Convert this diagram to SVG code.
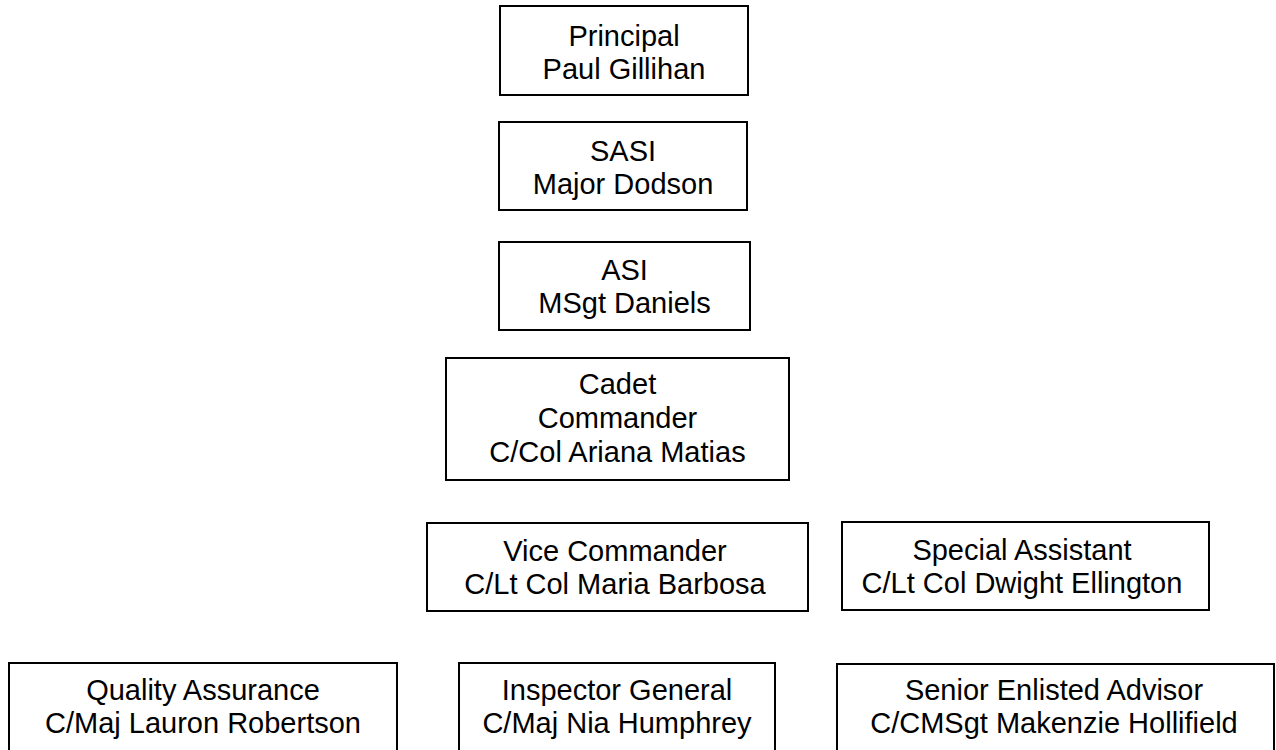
<svg xmlns="http://www.w3.org/2000/svg" width="1276" height="750" viewBox="0 0 1276 750">
<style>
.box{fill:#fff;stroke:#000;stroke-width:2}
.t{font-family:"Liberation Sans",Arial,sans-serif;font-size:29px;fill:#000;text-anchor:middle}
</style>
<rect width="1276" height="750" fill="#fff"/>
<g id="connectors"></g>
<g id="principal">
<rect class="box" x="500" y="6" width="248" height="89"/>
<text class="t" x="624" y="46">Principal</text>
<text class="t" x="624" y="79">Paul Gillihan</text>
</g>
<g id="sasi">
<rect class="box" x="499" y="122" width="248" height="88"/>
<text class="t" x="623" y="161">SASI</text>
<text class="t" x="623" y="194">Major Dodson</text>
</g>
<g id="asi">
<rect class="box" x="499" y="242" width="251" height="88"/>
<text class="t" x="624.5" y="280">ASI</text>
<text class="t" x="624.5" y="313">MSgt Daniels</text>
</g>
<g id="cadet-commander">
<rect class="box" x="446" y="358" width="343" height="122"/>
<text class="t" x="617.5" y="394">Cadet</text>
<text class="t" x="617.5" y="428">Commander</text>
<text class="t" x="617.5" y="462">C/Col Ariana Matias</text>
</g>
<g id="vice-commander">
<rect class="box" x="427" y="523" width="381" height="88"/>
<text class="t" x="615" y="561">Vice Commander</text>
<text class="t" x="615" y="594">C/Lt Col Maria Barbosa</text>
</g>
<g id="special-assistant">
<rect class="box" x="842" y="522" width="367" height="88"/>
<text class="t" x="1022" y="560">Special Assistant</text>
<text class="t" x="1022" y="593">C/Lt Col Dwight Ellington</text>
</g>
<g id="quality-assurance">
<rect class="box" x="9" y="663" width="388" height="100"/>
<text class="t" x="203" y="700">Quality Assurance</text>
<text class="t" x="203" y="733">C/Maj Lauron Robertson</text>
</g>
<g id="inspector-general">
<rect class="box" x="459" y="663" width="316" height="100"/>
<text class="t" x="617" y="700">Inspector General</text>
<text class="t" x="617" y="733">C/Maj Nia Humphrey</text>
</g>
<g id="senior-enlisted-advisor">
<rect class="box" x="837" y="664" width="437" height="100"/>
<text class="t" x="1054" y="700">Senior Enlisted Advisor</text>
<text class="t" x="1054" y="733">C/CMSgt Makenzie Hollifield</text>
</g>
</svg>
